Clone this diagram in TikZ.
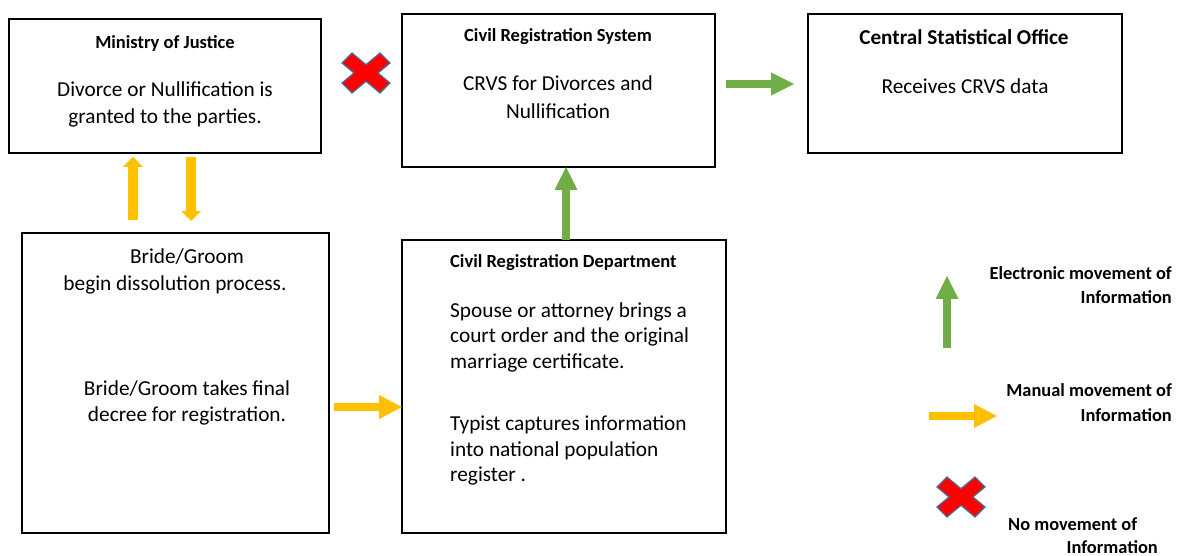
\documentclass[tikz,border=0pt]{standalone}
\usepackage{fontspec}
\setmainfont{Carlito}
\usetikzlibrary{arrows.meta}
\definecolor{manual}{HTML}{FFC000}
\definecolor{electronic}{HTML}{70AD47}
\definecolor{nomove}{HTML}{FF0000}
\definecolor{nomoveedge}{HTML}{41719C}

\tikzset{
  box/.style={draw=black, line width=1.5pt, inner sep=0pt, outer sep=0pt},
  txt/.style={inner sep=0pt, anchor=base, font=\fontsize{21.3}{26}\selectfont},
  ltxt/.style={txt, anchor=base west},
  ttl/.style={inner sep=0pt, anchor=base, font=\bfseries\fontsize{18.5}{22}\selectfont},
  bigttl/.style={ttl, font=\bfseries\fontsize{21.2}{26}\selectfont},
  legtxt/.style={inner sep=0pt, anchor=base east, font=\bfseries\fontsize{18.4}{22}\selectfont},
  eflow/.style={draw=electronic, line width=8pt,
    -{Triangle[length=23pt,width=23pt,line width=0pt]}},
  mflow/.style={draw=manual, line width=8.5pt,
    -{Triangle[length=23pt,width=24pt,line width=0pt]}},
  mflowsmall/.style={draw=manual, line width=10pt,
    -{Triangle[length=10pt,width=20pt,line width=0pt]}},
  pics/nomark/.style={code={
    \filldraw[fill=nomove, draw=nomoveedge, line width=1.2pt, line join=miter]
      (-24,-10) -- (-14,-20) -- (0,-8.33) -- (14,-20) -- (24,-10) -- (12,0)
      -- (24,10) -- (14,20) -- (0,8.33) -- (-14,20) -- (-24,10) -- (-12,0) -- cycle;
  }},
}

\begin{document}
\begin{tikzpicture}[x=1pt, y=-1pt]
  \useasboundingbox (0,0) rectangle (1179,556);

  % Ministry of Justice
  \node[box, minimum width=312pt, minimum height=134pt] (moj) at (165,86) {};
  \node[ttl] (mojT) at (165,48.3) {Ministry of Justice};
  \node[txt] (mojA) at (165,96.7) {Divorce or Nullification is};
  \node[txt] (mojB) at (165,123.5) {granted to the parties.};

  % Civil Registration System
  \node[box, minimum width=313pt, minimum height=153pt] (crs) at (558.5,90.5) {};
  \node[ttl] (crsT) at (558,41.7) {Civil Registration System};
  \node[txt] (crsA) at (558,90.7) {CRVS for Divorces and};
  \node[txt] (crsB) at (558,119) {Nullification};

  % Central Statistical Office
  \node[box, minimum width=314pt, minimum height=139pt] (cso) at (965,83.5) {};
  \node[bigttl] (csoT) at (964,45) {Central Statistical Office};
  \node[txt] (csoA) at (965,94) {Receives CRVS data};

  % Bride / Groom
  \node[box, minimum width=307pt, minimum height=300pt] (bride) at (175.5,383) {};
  \node[txt] (brA) at (187,264) {Bride/Groom};
  \node[txt] (brB) at (175,290.7) {begin dissolution process.};
  \node[txt] (brC) at (187,395) {Bride/Groom takes final};
  \node[txt] (brD) at (187,421) {decree for registration.};

  % Civil Registration Department
  \node[box, minimum width=324pt, minimum height=293pt] (crd) at (564,386.5) {};
  \node[ttl, anchor=base west] (crdT) at (450,267.3) {Civil Registration Department};
  \node[ltxt] (crdA) at (450,317.3) {Spouse or attorney brings a};
  \node[ltxt] (crdB) at (450,342.7) {court order and the original};
  \node[ltxt] (crdC) at (450,368.3) {marriage certificate.};
  \node[ltxt] (crdD) at (450,430) {Typist captures information};
  \node[ltxt] (crdE) at (450,456) {into national population};
  \node[ltxt] (crdF) at (450,481.7) {register .};

  % Flows between the offices
  \draw[mflowsmall, shorten <=13pt, shorten >=4pt]
    ([xshift=-42.5pt]bride.north) -- ([xshift=-42.5pt]bride.north |- moj.south);
  \draw[mflowsmall, shorten <=4pt, shorten >=12pt]
    ([xshift=15.5pt]bride.north |- moj.south) -- ([xshift=15.5pt]bride.north);
  \draw[mflow, shorten <=5pt]
    ([yshift=-24pt]bride.east) -- ([yshift=-24pt]bride.east -| crd.west);
  \draw[eflow]
    ([xshift=2pt]crd.north) -- ([xshift=2pt]crd.north |- crs.south);
  \draw[eflow, shorten <=11pt, shorten >=14pt]
    ([yshift=6.5pt]crs.east) -- ([yshift=6.5pt]crs.east -| cso.west);
  \pic at (366,73) {nomark};

  % Legend
  \coordinate (eA) at (947,348);
  \coordinate (eB) at (947,276);
  \draw[eflow] (eA) -- (eB);
  \node[legtxt] (leA) at (1172,279.3) {Electronic movement of};
  \node[legtxt] (leB) at (1172,303.3) {Information};

  \coordinate (mA) at (929,416);
  \coordinate (mB) at (997,416);
  \draw[mflow] (mA) -- (mB);
  \node[legtxt] (lmA) at (1172,396.7) {Manual movement of};
  \node[legtxt] (lmB) at (1172,421.7) {Information};

  \pic at (961,497) {nomark};
  \node[legtxt, anchor=base west] (lnA) at (1008,530) {No movement of};
  \node[legtxt] (lnB) at (1158,553.3) {Information};
\end{tikzpicture}
\end{document}
